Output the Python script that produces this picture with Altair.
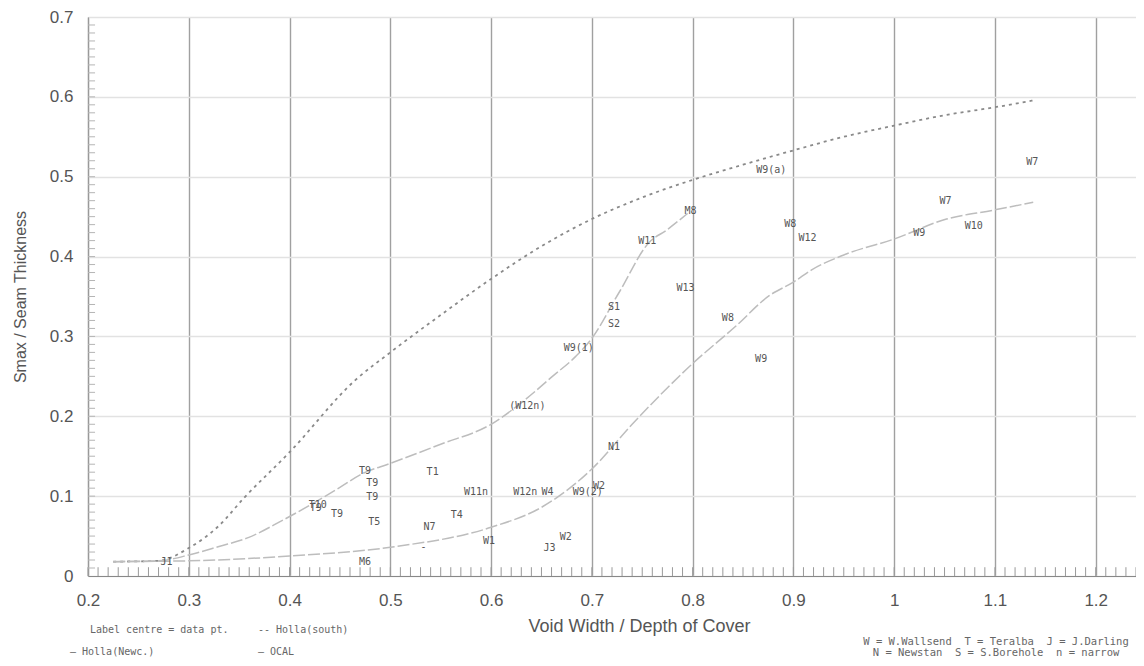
import altair as alt
import pandas as pd

# ---- data ----
holla_south_x = [0.225, 0.27, 0.3, 0.33, 0.355, 0.4, 0.465, 0.5, 0.548, 0.6, 0.65, 0.7, 0.75,
                 0.8, 0.85, 0.9, 0.95, 1.0, 1.05, 1.1, 1.14]
holla_south_y = [0.018, 0.019, 0.035, 0.063, 0.098, 0.155, 0.245, 0.28, 0.325, 0.372, 0.413, 0.447,
                 0.474, 0.496, 0.515, 0.533, 0.55, 0.564, 0.577, 0.587, 0.596]

holla_newc_x = [0.225, 0.27, 0.302, 0.33, 0.359, 0.392, 0.422, 0.45, 0.472, 0.5, 0.55, 0.6,
                0.634, 0.66, 0.684, 0.699, 0.727, 0.757, 0.774, 0.795]
holla_newc_y = [0.018, 0.019, 0.027, 0.037, 0.048, 0.069, 0.09, 0.111, 0.128, 0.141, 0.165, 0.19,
                0.221, 0.249, 0.275, 0.296, 0.355, 0.418, 0.433, 0.454]

ocal_x = [0.225, 0.3, 0.4, 0.5, 0.6, 0.65, 0.7, 0.74, 0.8, 0.843, 0.876, 0.9, 0.919, 0.95, 1.0,
          1.052, 1.098, 1.138]
ocal_y = [0.018, 0.019, 0.025, 0.036, 0.061, 0.086, 0.134, 0.19, 0.266, 0.313, 0.351, 0.368,
          0.384, 0.402, 0.422, 0.447, 0.458, 0.468]

point_labels = ["J1", "M6", "T9", "T9", "T9", "T10", "T9", "T9", "T5", "T1", "N7", "-", "T4",
                "W11n", "W1", "W12n", "W4", "W9(2)", "W2", "J3", "W2", "N1", "(W12n)", "W9(1)",
                "S1", "S2", "W11", "W13", "W8", "W9", "M8", "W9(a)", "W8", "W12", "W9", "W7",
                "W10", "W7"]
point_x = [0.278, 0.475, 0.475, 0.482, 0.482, 0.428, 0.426, 0.447, 0.484, 0.542, 0.539, 0.533,
           0.566, 0.585, 0.598, 0.634, 0.656, 0.696, 0.707, 0.658, 0.674, 0.722, 0.636, 0.687,
           0.722, 0.722, 0.755, 0.793, 0.835, 0.868, 0.798, 0.878, 0.897, 0.914, 1.025, 1.051,
           1.079, 1.137]
point_y = [0.017, 0.017, 0.131, 0.117, 0.099, 0.089, 0.085, 0.078, 0.068, 0.130, 0.061, 0.036,
           0.076, 0.105, 0.044, 0.105, 0.105, 0.105, 0.113, 0.035, 0.049, 0.161, 0.213, 0.285,
           0.337, 0.316, 0.420, 0.361, 0.323, 0.272, 0.457, 0.509, 0.441, 0.423, 0.429, 0.469,
           0.438, 0.518]

x_tick_values = [0.2, 0.3, 0.4, 0.5, 0.6, 0.7, 0.8, 0.9, 1.0, 1.1, 1.2]
y_tick_values = [0, 0.1, 0.2, 0.3, 0.4, 0.5, 0.6, 0.7]
x_minor = [round(0.2 + i * 0.01, 2) for i in range(105)]
y_minor = [round(0.01 * i, 2) for i in range(1, 70)]

NB2 = "\u00a0\u00a0"
notes_left = ["Label centre = data pt.", "-- Holla(south)", "\u2014 Holla(Newc.)", "\u2014 OCAL"]
notes_right = ["W = W.Wallsend" + NB2 + "T = Teralba" + NB2 + "J = J.Darling",
               "N = Newstan" + NB2 + "S = S.Borehole" + NB2 + "n = narrow"]

# ---- scales ----
xs = alt.Scale(domain=[0.2, 1.24], nice=False, zero=False)
ys = alt.Scale(domain=[0, 0.7], nice=False, zero=False)

x_axis = alt.Axis(values=x_tick_values, format="~g", title="Void Width / Depth of Cover",
                  grid=True, gridColor="#a0a0a0", gridWidth=1.4, ticks=False,
                  labelFlush=False, labelFontSize=17, labelPadding=16, labelColor="#555",
                  labelFont="Liberation Sans", titleFont="Liberation Sans", titleFontSize=18,
                  titleFontWeight="normal", titleColor="#555", titlePadding=9, titleX=551,
                  domainColor="#888", domainWidth=1.2)
y_axis = alt.Axis(values=y_tick_values, format="~g", title="Smax / Seam Thickness",
                  grid=True, gridColor="#e2e2e2", gridWidth=1.5, ticks=False,
                  labelFontSize=17, labelPadding=15, labelColor="#555",
                  labelFont="Liberation Sans", titleFont="Liberation Sans", titleFontSize=16,
                  titleFontWeight="normal", titleColor="#555", titlePadding=21,
                  domainColor="#999", domainWidth=1.2)

base_grid = alt.Chart(pd.DataFrame({"x": [0.2], "y": [0.0]})).mark_point(opacity=0).encode(
    x=alt.X("x:Q", scale=xs, axis=x_axis),
    y=alt.Y("y:Q", scale=ys, axis=y_axis),
)

xmin_df = pd.DataFrame({"x": x_minor, "y0": [0.0] * len(x_minor), "y1": [0.011] * len(x_minor)})
bottom_ticks = alt.Chart(xmin_df).mark_rule(color="#999", strokeWidth=1).encode(
    x=alt.X("x:Q", scale=xs), y=alt.Y("y0:Q", scale=ys), y2="y1:Q")

ymin_df = pd.DataFrame({"y": y_minor, "x0": [0.2] * len(y_minor), "x1": [0.207] * len(y_minor)})
left_ticks = alt.Chart(ymin_df).mark_rule(color="#b5b5b5", strokeWidth=1).encode(
    y=alt.Y("y:Q", scale=ys), x=alt.X("x0:Q", scale=xs), x2="x1:Q")

south_df = pd.DataFrame({"x": holla_south_x, "y": holla_south_y})
newc_df = pd.DataFrame({"x": holla_newc_x, "y": holla_newc_y})
ocal_df = pd.DataFrame({"x": ocal_x, "y": ocal_y})

south = alt.Chart(south_df).mark_line(color="#8a8a8a", strokeWidth=1.8, strokeDash=[3, 4],
                                      interpolate="monotone").encode(
    x=alt.X("x:Q", scale=xs), y=alt.Y("y:Q", scale=ys))
newc = alt.Chart(newc_df).mark_line(color="#bdbdbd", strokeWidth=1.5, strokeDash=[12, 3],
                                    interpolate="monotone").encode(
    x=alt.X("x:Q", scale=xs), y=alt.Y("y:Q", scale=ys))
ocal = alt.Chart(ocal_df).mark_line(color="#bdbdbd", strokeWidth=1.5, strokeDash=[12, 3],
                                    interpolate="monotone").encode(
    x=alt.X("x:Q", scale=xs), y=alt.Y("y:Q", scale=ys))

lab_df = pd.DataFrame({"t": point_labels, "x": point_x, "y": point_y})
labels = alt.Chart(lab_df).mark_text(font="DejaVu Sans Mono", fontSize=10, color="#555",
                                     align="center", baseline="middle").encode(
    x=alt.X("x:Q", scale=xs), y=alt.Y("y:Q", scale=ys), text="t:N")

nl_df = pd.DataFrame({"t": notes_left, "px": [2, 170, -18, 170], "py": [613, 613, 635, 635]})
notes_l = alt.Chart(nl_df).mark_text(font="DejaVu Sans Mono", fontSize=10, color="#666",
                                     align="left", baseline="middle").encode(
    x=alt.X("px:Q", scale=None), y=alt.Y("py:Q", scale=None), text="t:N")

nr_df = pd.DataFrame({"t": notes_right, "px": [908, 908], "py": [625, 636]})
notes_r = alt.Chart(nr_df).mark_text(font="DejaVu Sans Mono", fontSize=10.5, color="#666",
                                     align="center", baseline="middle").encode(
    x=alt.X("px:Q", scale=None), y=alt.Y("py:Q", scale=None), text="t:N")

chart = alt.layer(base_grid, bottom_ticks, left_ticks, south, newc, ocal, labels,
                  notes_l, notes_r).properties(
    width=1048, height=559,
    autosize=alt.AutoSizeParams(type="none"),
    padding={"left": 80, "top": 9, "right": 0, "bottom": 82},
    background="white",
).configure_view(strokeWidth=0)

chart.save("out.html", embed_options={"renderer": "svg", "actions": False})
